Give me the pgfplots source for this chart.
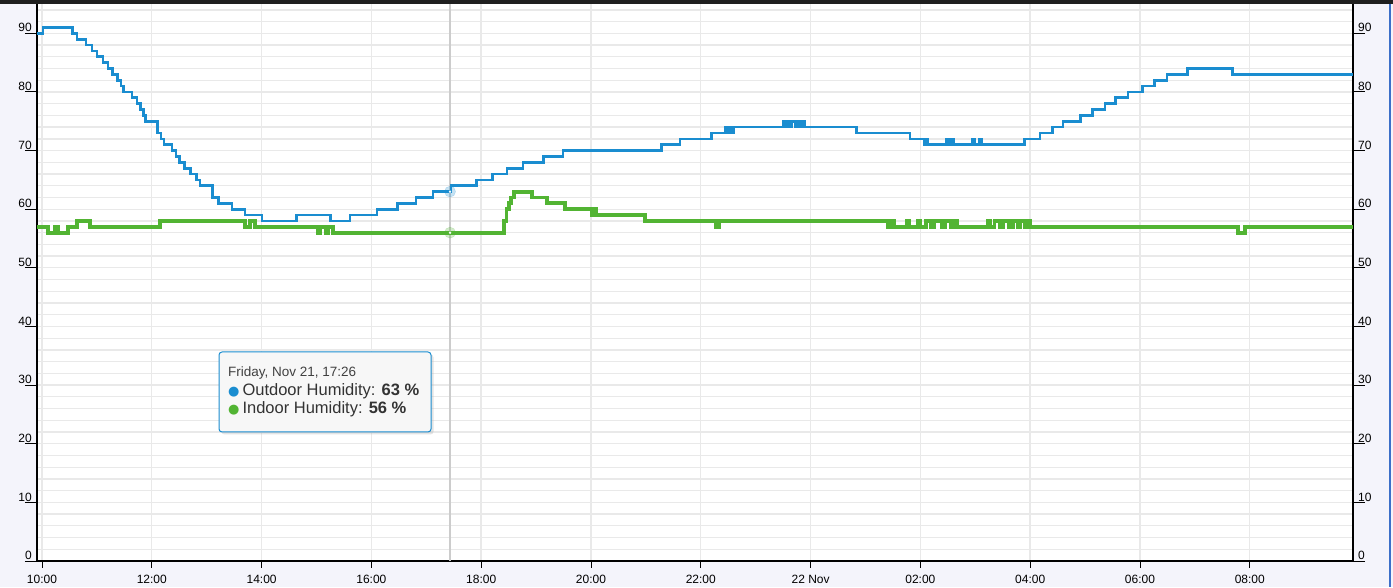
\documentclass[border=0pt]{standalone}
\usepackage{pgfplots}
\pgfplotsset{compat=1.18}
\usepackage{fontspec}
\setmainfont{Liberation Sans}
\newfontfamily\dejavu{DejaVu Sans}
\definecolor{outblue}{HTML}{1A8DD0}
\definecolor{ingreen}{HTML}{52B433}
\definecolor{bgl}{HTML}{F4F4FB}
\definecolor{gridc}{HTML}{E9E9E9}
\definecolor{rborder}{HTML}{3C6FC8}
\begin{document}
\begin{tikzpicture}[x=1pt,y=1pt]
\fill[bgl] (0,0) rectangle (1393,587);
\fill[white] (37,26) rectangle (1353,583);
\fill[black!88] (0,583) rectangle (1393,587);
\draw[rborder, line width=1.5pt] (1390,0) -- (1390,583);
\path[use as bounding box] (0,0) rectangle (1393,587);
\pgfplotsset{base/.style={at={(37pt,26pt)}, anchor=south west, scale only axis,
  width=1316pt, height=557pt, xmin=9.909, xmax=33.88, ymin=0, ymax=95,
  /pgf/number format/assume math mode=true,
  tick label style={font=\fontsize{12}{12}\selectfont, text=black},
  axis line style={black, line width=1.1pt}}}
% left y ticks + horizontal grid
\begin{axis}[base, axis x line=none, axis y line*=left,
  ytick={0,10,...,90}, minor ytick={0,2,...,94},
  tick align=outside, major tick length=12pt, minor tick length=0pt,
  ytick style={black, line width=0.9pt},
  ymajorgrids, yminorgrids,
  major grid style={gridc, line width=1.3pt},
  minor grid style={gridc, line width=1.3pt},
  yticklabel style={anchor=south east, inner sep=0pt, xshift=7pt, yshift=1pt}]
\end{axis}
% right y ticks
\begin{axis}[base, axis x line=none, axis y line*=right,
  ytick={0,10,...,90}, tick align=outside, major tick length=12pt,
  ytick style={black, line width=0.9pt},
  yticklabel style={anchor=south west, inner sep=0pt, xshift=-7pt, yshift=1pt}]
\end{axis}
% main axis: vertical grid, data, x ticks
\begin{axis}[base,
  axis x line*=bottom, axis y line*=box,
  xtick={10,12,...,32},
  xticklabels={10:00,12:00,14:00,16:00,18:00,20:00,22:00,22 Nov,02:00,04:00,06:00,08:00},
  xtick pos=bottom, tick align=outside, major tick length=7pt,
  xtick style={black, line width=0.9pt},
  xticklabel style={anchor=north, inner sep=0pt, yshift=-7pt},
  ytick=\empty,
  xmajorgrids,
  major grid style={gridc, line width=1.4pt},
]
\addplot[black!20, line width=1.5pt] coordinates {(17.433,0) (17.433,95)};
% Outdoor humidity
\addplot[const plot, outblue, line width=2.7pt] coordinates {
(9.909,90) (10.02,91) (10.55,90) (10.64,89) (10.80,88) (10.91,87) (11.00,86) (11.11,85)
(11.20,84) (11.29,83) (11.37,82) (11.44,81) (11.48,80) (11.64,79) (11.73,78) (11.79,77)
(11.85,76) (11.88,75) (12.11,73) (12.17,72) (12.22,71) (12.37,70) (12.44,69) (12.51,68)
(12.60,67) (12.70,66) (12.81,65) (12.88,64) (13.10,62) (13.21,61) (13.46,60) (13.70,59)
(14.01,58) (14.64,59) (15.25,58) (15.61,59) (16.10,60) (16.48,61) (16.81,62) (17.12,63)
(17.45,64) (17.92,65) (18.21,66) (18.47,67) (18.76,68) (19.13,69) (19.49,70) (21.29,71)
(21.62,72) (22.20,73) (22.44,74) (22.48,73) (22.52,74) (22.56,73) (22.60,74)
(23.50,75) (23.54,74) (23.58,75) (23.62,74) (23.66,75) (23.72,74) (23.76,75) (23.82,74)
(23.86,75) (23.90,74) (24.83,73) (25.81,72) (26.08,71) (26.10,72) (26.13,71)
(26.48,72) (26.52,71) (26.55,72) (26.60,71) (26.94,72) (26.98,71) (27.08,72) (27.11,71)
(27.89,72) (28.18,73) (28.40,74) (28.60,75) (28.91,76) (29.14,77) (29.36,78) (29.55,79)
(29.78,80) (30.05,81) (30.27,82) (30.49,83) (30.86,84) (31.68,83) (33.88,83)};
% Indoor humidity
\addplot[const plot, ingreen, line width=3.8pt] coordinates {
(9.909,57) (10.11,56) (10.24,57) (10.29,56) (10.47,57) (10.64,58) (10.87,57) (12.15,58)
(13.70,57) (13.79,58) (13.88,57) (15.03,56) (15.07,57) (15.17,56) (15.21,57) (15.30,56)
(18.38,56) (18.42,58) (18.46,60) (18.50,61) (18.55,62) (18.60,63) (18.93,62) (19.20,61)
(19.53,60) (20.02,59) (20.05,60) (20.09,59) (20.98,58) (22.28,57) (22.33,58)
(25.41,57) (25.44,58) (25.47,57) (25.50,58) (25.53,57) (25.75,58) (25.80,57) (25.95,58)
(26.00,57) (26.10,58) (26.20,57) (26.25,58) (26.40,57) (26.45,58) (26.55,57) (26.60,58)
(26.67,57) (27.23,58) (27.27,57) (27.35,58) (27.45,57) (27.50,58) (27.62,57) (27.68,58)
(27.78,57) (27.82,58) (27.90,57) (27.95,58) (28.00,57) (31.79,56) (31.91,57) (33.88,57)};
% hover halos
\addplot[only marks, mark=*, mark size=5.5pt, outblue, opacity=0.25] coordinates {(17.433,63)};
\addplot[only marks, mark=*, mark size=5.5pt, ingreen, opacity=0.25] coordinates {(17.433,56)};
\addplot[only marks, mark=*, mark size=1pt, white] coordinates {(17.433,63) (17.433,56)};
\end{axis}
% tooltip
\fill[black!30, opacity=0.35, rounded corners=3pt] (221.5,152.5) rectangle (433.5,232.5);
\filldraw[fill=black!3, draw=outblue, line width=1pt, rounded corners=3pt] (219,155) rectangle (431,235);
\node[anchor=base west, inner sep=0pt, font=\fontsize{13.5}{13.5}\selectfont, text=black!75] at (228,210) {Friday, Nov 21, 17:26};
\node[anchor=base west, inner sep=0pt, font=\fontsize{16.5}{16.5}\selectfont, text=black!80] at (228,191) {{\dejavu\fontsize{13}{13}\selectfont\textcolor{outblue}{●}}\hspace{3pt}Outdoor Humidity: \textbf{63 \%}};
\node[anchor=base west, inner sep=0pt, font=\fontsize{16.5}{16.5}\selectfont, text=black!80] at (228,173) {{\dejavu\fontsize{13}{13}\selectfont\textcolor{ingreen}{●}}\hspace{3pt}Indoor Humidity: \textbf{56 \%}};
\end{tikzpicture}
\end{document}
